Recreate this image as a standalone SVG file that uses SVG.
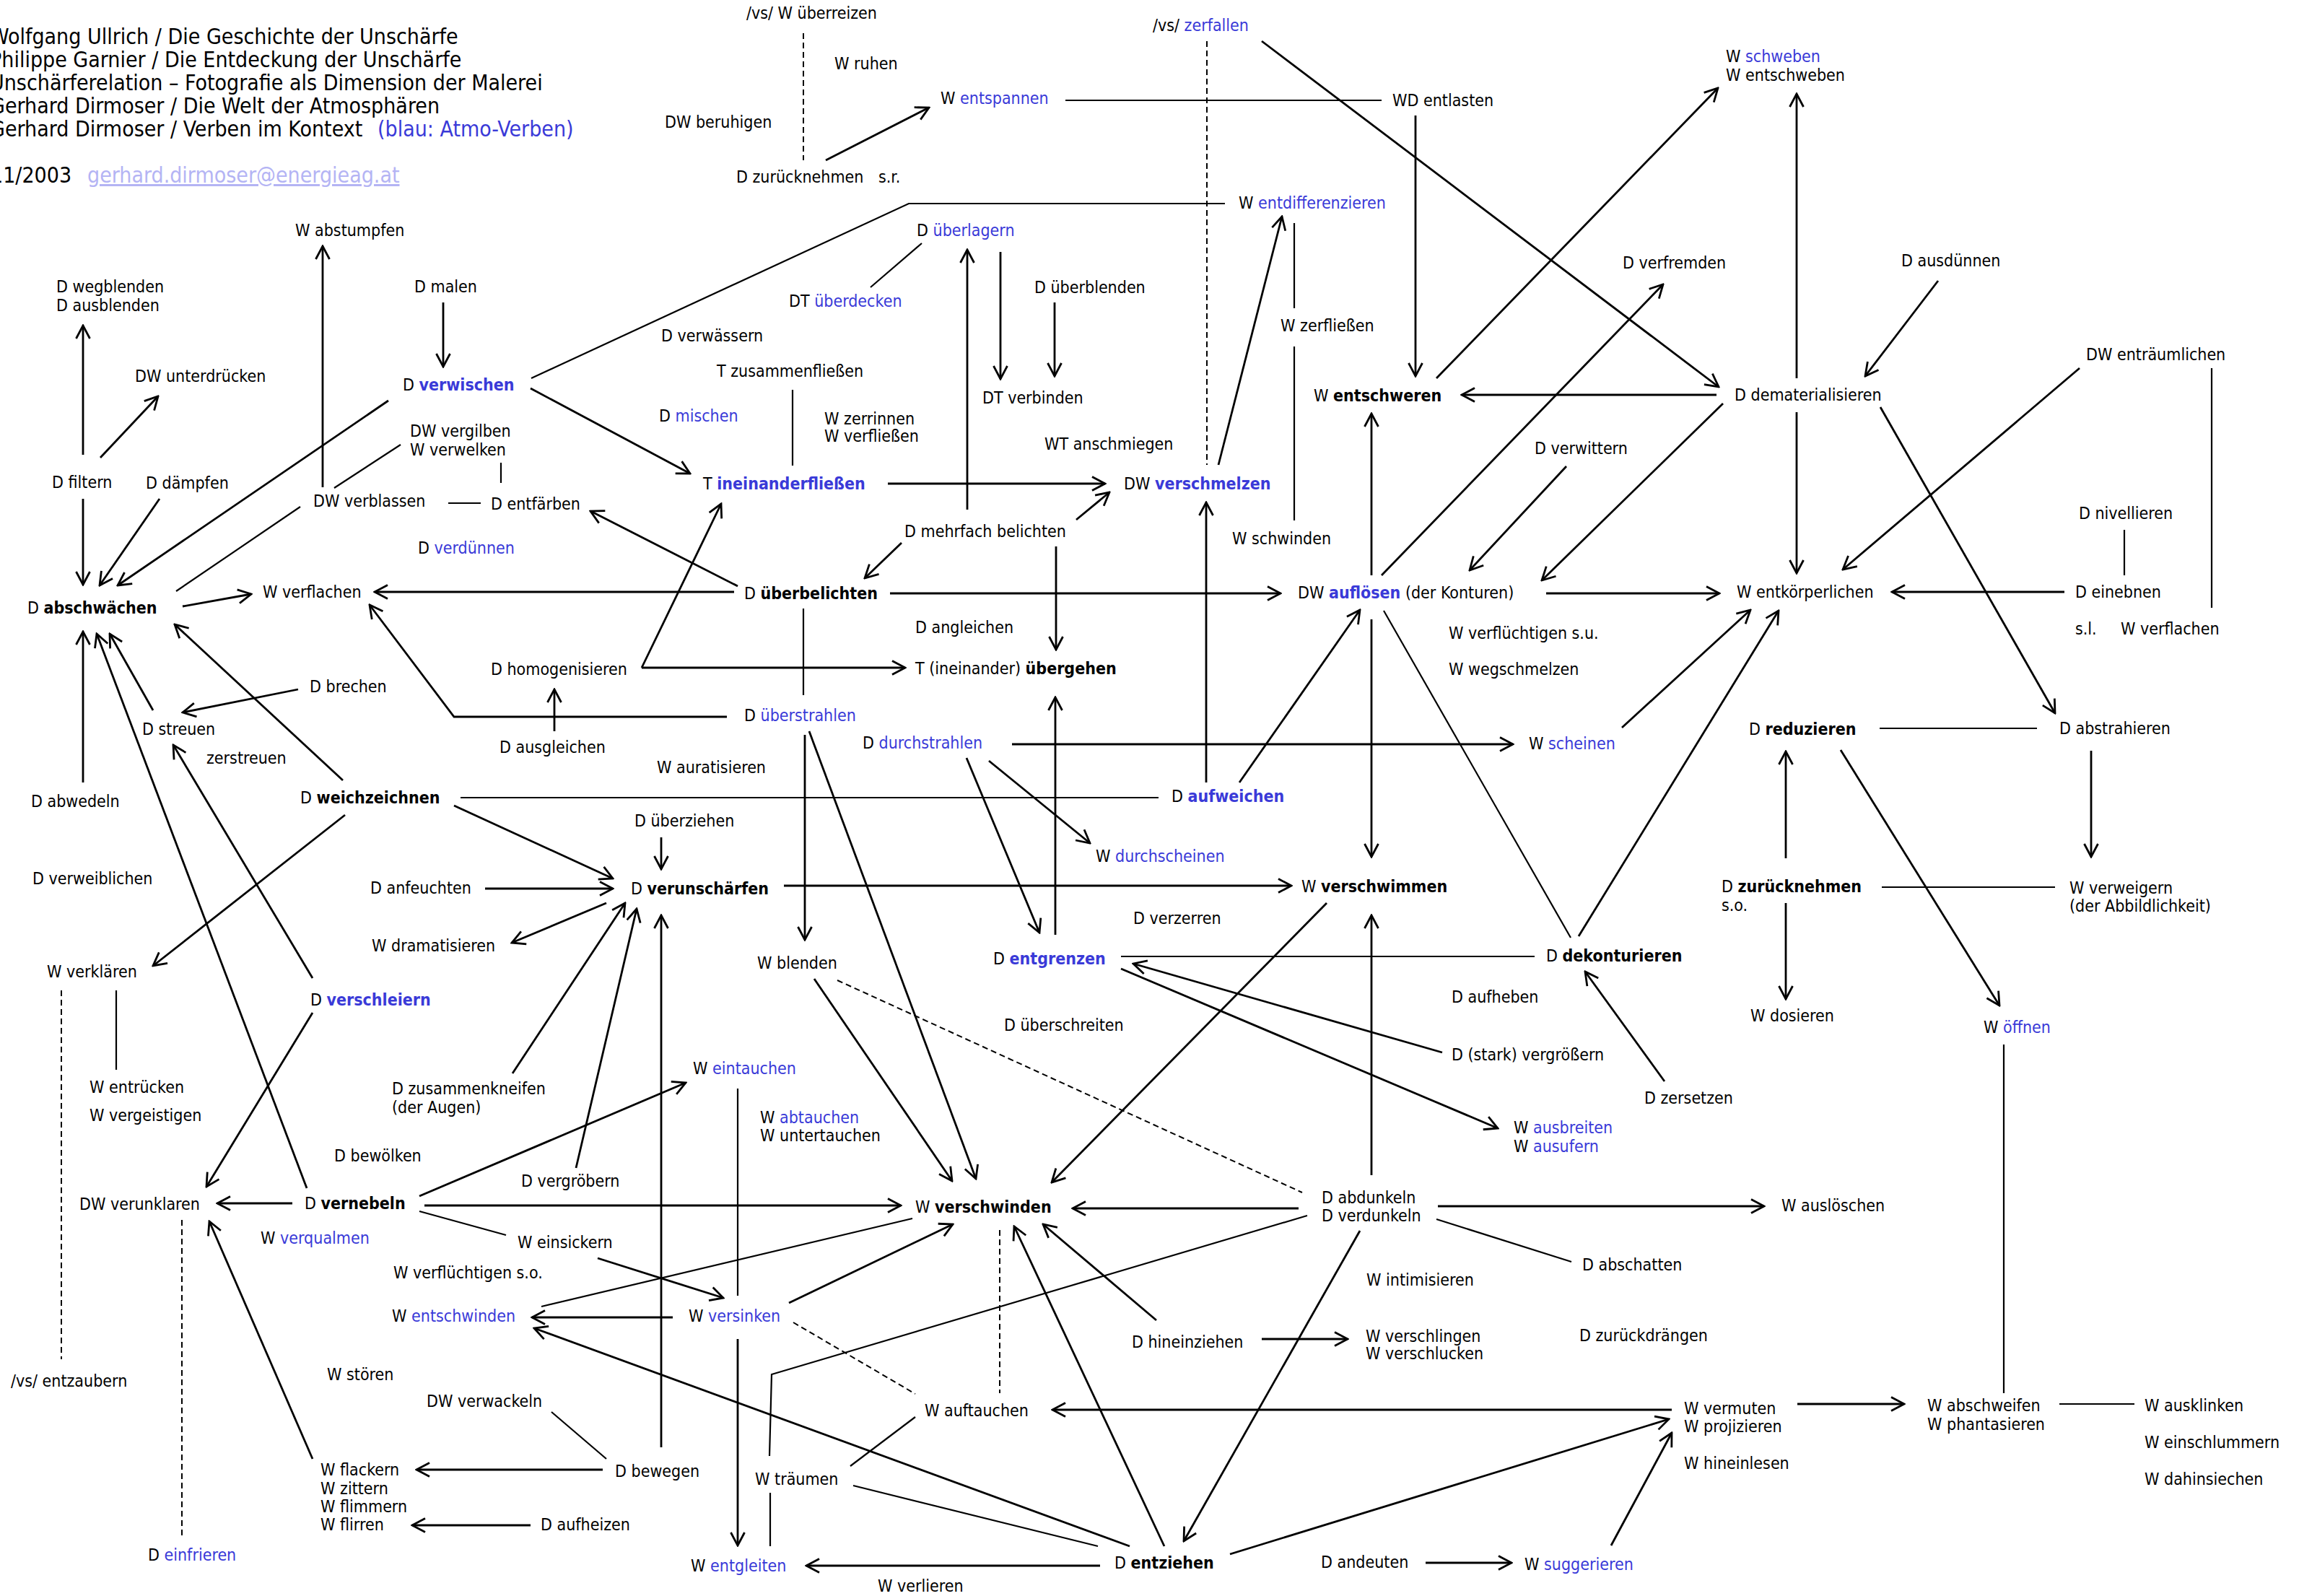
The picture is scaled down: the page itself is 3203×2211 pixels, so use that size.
<svg xmlns="http://www.w3.org/2000/svg" width="3203" height="2211" viewBox="0 0 3203 2211">
<style>
text{font-family:"DejaVu Sans Condensed","DejaVu Sans",sans-serif;font-stretch:condensed;font-size:23px;fill:#000}
.h{font-size:30px}
.b{font-weight:bold}
.c{fill:#3a3ad8}
.m{fill:#b4b4f4;text-decoration:underline}
.a{stroke:#000;stroke-width:2.8;fill:none;marker-end:url(#ah)}
.l{stroke:#000;stroke-width:2.2;fill:none}
.d{stroke:#000;stroke-width:2;fill:none;stroke-dasharray:8 5}
</style>
<defs>
<marker id="ah" viewBox="-22 -12 24 24" refX="0" refY="0" markerWidth="24" markerHeight="24" orient="auto" markerUnits="userSpaceOnUse">
<path d="M-18,-9.5 L0,0 L-18,9.5" fill="none" stroke="#000" stroke-width="2.8"/>
</marker>
</defs>
<rect width="3203" height="2211" fill="#fff"/>
<g id="header">
<text class="h" x="-14" y="61">Wolfgang Ullrich / Die Geschichte der Unschärfe</text>
<text class="h" x="-14" y="93">Philippe Garnier / Die Entdeckung der Unschärfe</text>
<text class="h" x="-14" y="125">Unschärferelation – Fotografie als Dimension der Malerei</text>
<text class="h" x="-14" y="157">Gerhard Dirmoser / Die Welt der Atmosphären</text>
<text class="h" x="-14" y="189">Gerhard Dirmoser / Verben im Kontext <tspan class="c" x="523">(blau: Atmo-Verben)</tspan></text>
<text class="h" x="-13" y="253">11/2003</text>
<text class="h m" x="121" y="253">gerhard.dirmoser@energieag.at</text>
</g>
<g id="connectors">
<line class="a" x1="115" y1="630" x2="115" y2="451"/>
<line class="a" x1="139" y1="634" x2="219" y2="549"/>
<line class="a" x1="614" y1="419" x2="614" y2="508"/>
<polyline class="l" points="736,524 1259,282 1697,282"/>
<line class="a" x1="735" y1="538" x2="956" y2="656"/>
<line class="a" x1="538" y1="555" x2="163" y2="811"/>
<line class="l" x1="463" y1="676" x2="555" y2="616"/>
<line class="l" x1="694" y1="641" x2="694" y2="669"/>
<line class="l" x1="621" y1="697" x2="666" y2="697"/>
<line class="a" x1="447" y1="675" x2="447" y2="341"/>
<line class="a" x1="115" y1="691" x2="115" y2="810"/>
<line class="a" x1="221" y1="691" x2="138" y2="811"/>
<line class="l" x1="416" y1="702" x2="244" y2="819"/>
<line class="d" x1="1113" y1="46" x2="1113" y2="222"/>
<line class="l" x1="1476" y1="139" x2="1914" y2="139"/>
<line class="a" x1="1144" y1="222" x2="1287" y2="149"/>
<line class="l" x1="1277" y1="337" x2="1206" y2="398"/>
<line class="a" x1="1340" y1="706" x2="1340" y2="346"/>
<line class="a" x1="1386" y1="349" x2="1386" y2="525"/>
<line class="a" x1="1461" y1="419" x2="1461" y2="521"/>
<line class="l" x1="1098" y1="540" x2="1098" y2="645"/>
<line class="a" x1="1230" y1="670" x2="1531" y2="670"/>
<line class="a" x1="1491" y1="720" x2="1537" y2="682"/>
<line class="a" x1="889" y1="925" x2="999" y2="698"/>
<line class="a" x1="889" y1="925" x2="1254" y2="925"/>
<line class="a" x1="1022" y1="812" x2="818" y2="708"/>
<line class="d" x1="1672" y1="57" x2="1672" y2="644"/>
<line class="a" x1="1748" y1="57" x2="2381" y2="536"/>
<line class="a" x1="1961" y1="160" x2="1961" y2="521"/>
<line class="a" x1="1688" y1="644" x2="1776" y2="300"/>
<line class="l" x1="1793" y1="309" x2="1793" y2="427"/>
<line class="l" x1="1793" y1="480" x2="1793" y2="721"/>
<line class="a" x1="2378" y1="547" x2="2025" y2="547"/>
<line class="a" x1="1990" y1="524" x2="2380" y2="122"/>
<line class="a" x1="1900" y1="797" x2="1900" y2="573"/>
<line class="a" x1="1914" y1="797" x2="2304" y2="394"/>
<line class="a" x1="2170" y1="646" x2="2036" y2="790"/>
<line class="a" x1="2387" y1="559" x2="2136" y2="804"/>
<line class="a" x1="2489" y1="524" x2="2489" y2="130"/>
<line class="a" x1="2685" y1="389" x2="2584" y2="521"/>
<line class="a" x1="2881" y1="510" x2="2553" y2="789"/>
<line class="l" x1="3064" y1="510" x2="3064" y2="842"/>
<line class="a" x1="2605" y1="564" x2="2847" y2="988"/>
<line class="a" x1="2489" y1="571" x2="2489" y2="794"/>
<line class="l" x1="2943" y1="734" x2="2943" y2="797"/>
<line class="a" x1="253" y1="840" x2="348" y2="823"/>
<line class="a" x1="1017" y1="820" x2="519" y2="820"/>
<polyline class="a" points="1007,993 629,993 512,838"/>
<line class="a" x1="768" y1="1013" x2="768" y2="955"/>
<line class="a" x1="413" y1="955" x2="253" y2="987"/>
<line class="a" x1="212" y1="984" x2="152" y2="878"/>
<line class="a" x1="475" y1="1081" x2="242" y2="865"/>
<line class="a" x1="115" y1="1084" x2="115" y2="875"/>
<line class="l" x1="638" y1="1105" x2="1605" y2="1105"/>
<line class="a" x1="629" y1="1116" x2="849" y2="1217"/>
<line class="a" x1="478" y1="1129" x2="212" y2="1338"/>
<line class="a" x1="672" y1="1231" x2="849" y2="1231"/>
<line class="a" x1="840" y1="1251" x2="709" y2="1306"/>
<line class="a" x1="433" y1="1355" x2="240" y2="1032"/>
<line class="a" x1="425" y1="1646" x2="134" y2="878"/>
<line class="a" x1="433" y1="1403" x2="286" y2="1644"/>
<line class="d" x1="85" y1="1372" x2="85" y2="1883"/>
<line class="l" x1="161" y1="1372" x2="161" y2="1482"/>
<line class="a" x1="1249" y1="752" x2="1198" y2="801"/>
<line class="a" x1="1233" y1="822" x2="1774" y2="822"/>
<line class="a" x1="1463" y1="757" x2="1463" y2="900"/>
<line class="l" x1="1113" y1="843" x2="1113" y2="963"/>
<line class="a" x1="1115" y1="1018" x2="1115" y2="1302"/>
<line class="a" x1="1121" y1="1013" x2="1352" y2="1633"/>
<line class="a" x1="1402" y1="1031" x2="2096" y2="1031"/>
<line class="a" x1="1370" y1="1054" x2="1510" y2="1168"/>
<line class="a" x1="1339" y1="1050" x2="1440" y2="1292"/>
<line class="a" x1="1462" y1="1295" x2="1462" y2="966"/>
<line class="a" x1="916" y1="1160" x2="916" y2="1204"/>
<line class="a" x1="1086" y1="1227" x2="1789" y2="1227"/>
<line class="a" x1="710" y1="1487" x2="866" y2="1251"/>
<line class="a" x1="798" y1="1618" x2="882" y2="1259"/>
<line class="a" x1="916" y1="2005" x2="916" y2="1268"/>
<line class="a" x1="1128" y1="1356" x2="1319" y2="1636"/>
<line class="d" x1="1160" y1="1358" x2="1804" y2="1652"/>
<line class="l" x1="1553" y1="1325" x2="2126" y2="1325"/>
<line class="a" x1="1998" y1="1458" x2="1570" y2="1335"/>
<line class="a" x1="1553" y1="1342" x2="2075" y2="1563"/>
<line class="a" x1="2142" y1="822" x2="2382" y2="822"/>
<line class="l" x1="1917" y1="846" x2="2176" y2="1299"/>
<line class="a" x1="1900" y1="858" x2="1900" y2="1187"/>
<line class="a" x1="1717" y1="1084" x2="1884" y2="845"/>
<line class="a" x1="1671" y1="1084" x2="1671" y2="696"/>
<line class="a" x1="2247" y1="1008" x2="2425" y2="845"/>
<line class="a" x1="1838" y1="1251" x2="1457" y2="1638"/>
<line class="a" x1="1900" y1="1628" x2="1900" y2="1268"/>
<line class="a" x1="2187" y1="1297" x2="2464" y2="846"/>
<line class="a" x1="2306" y1="1498" x2="2196" y2="1346"/>
<line class="a" x1="2860" y1="820" x2="2621" y2="820"/>
<line class="l" x1="2604" y1="1009" x2="2822" y2="1009"/>
<line class="a" x1="2897" y1="1040" x2="2897" y2="1187"/>
<line class="a" x1="2474" y1="1189" x2="2474" y2="1041"/>
<line class="a" x1="2550" y1="1039" x2="2770" y2="1393"/>
<line class="l" x1="2607" y1="1229" x2="2847" y2="1229"/>
<line class="a" x1="2474" y1="1251" x2="2474" y2="1384"/>
<line class="l" x1="2776" y1="1447" x2="2776" y2="1930"/>
<line class="a" x1="405" y1="1667" x2="301" y2="1667"/>
<line class="a" x1="581" y1="1657" x2="950" y2="1500"/>
<line class="a" x1="588" y1="1670" x2="1248" y2="1670"/>
<line class="l" x1="581" y1="1678" x2="701" y2="1711"/>
<line class="a" x1="828" y1="1743" x2="1002" y2="1798"/>
<line class="a" x1="932" y1="1825" x2="737" y2="1825"/>
<line class="l" x1="750" y1="1810" x2="1264" y2="1688"/>
<line class="a" x1="1565" y1="2142" x2="740" y2="1840"/>
<line class="l" x1="764" y1="1956" x2="840" y2="2021"/>
<line class="a" x1="835" y1="2036" x2="577" y2="2036"/>
<line class="a" x1="735" y1="2113" x2="571" y2="2113"/>
<line class="a" x1="433" y1="2021" x2="290" y2="1692"/>
<line class="d" x1="252" y1="1690" x2="252" y2="2127"/>
<line class="l" x1="1022" y1="1508" x2="1022" y2="1795"/>
<line class="a" x1="1799" y1="1674" x2="1486" y2="1674"/>
<line class="a" x1="1093" y1="1805" x2="1320" y2="1696"/>
<line class="a" x1="1022" y1="1855" x2="1022" y2="2141"/>
<line class="d" x1="1099" y1="1832" x2="1268" y2="1931"/>
<line class="d" x1="1385" y1="1704" x2="1385" y2="1930"/>
<polyline class="l" points="1066,2017 1069,1904 1811,1684"/>
<line class="a" x1="2316" y1="1953" x2="1458" y2="1953"/>
<line class="l" x1="1268" y1="1963" x2="1178" y2="2031"/>
<line class="l" x1="1067" y1="2068" x2="1067" y2="2142"/>
<line class="l" x1="1182" y1="2058" x2="1521" y2="2142"/>
<line class="a" x1="1613" y1="2142" x2="1405" y2="1699"/>
<line class="a" x1="1602" y1="1829" x2="1445" y2="1696"/>
<line class="a" x1="1524" y1="2169" x2="1117" y2="2169"/>
<line class="a" x1="1992" y1="1671" x2="2444" y2="1671"/>
<line class="l" x1="1990" y1="1689" x2="2177" y2="1748"/>
<line class="a" x1="1884" y1="1705" x2="1640" y2="2135"/>
<line class="a" x1="1748" y1="1855" x2="1867" y2="1855"/>
<line class="a" x1="1704" y1="2153" x2="2312" y2="1966"/>
<line class="a" x1="2232" y1="2141" x2="2316" y2="1985"/>
<line class="a" x1="1975" y1="2165" x2="2094" y2="2165"/>
<line class="a" x1="2490" y1="1945" x2="2638" y2="1945"/>
<line class="l" x1="2853" y1="1945" x2="2957" y2="1945"/>
</g>
<g id="n-ueberreizen"><text x="1034" y="26">/vs/ W überreizen</text></g>
<g id="n-ruhen"><text x="1156" y="96">W ruhen</text></g>
<g id="n-entspannen"><text x="1303" y="144">W <tspan class="c">entspannen</tspan></text></g>
<g id="n-beruhigen"><text x="921" y="177">DW beruhigen</text></g>
<g id="n-zuruecknehmen-sr"><text x="1020" y="253">D zurücknehmen<tspan x="1217">s.r.</tspan></text></g>
<g id="n-zerfallen"><text x="1597" y="43">/vs/ <tspan class="c">zerfallen</tspan></text></g>
<g id="n-entlasten"><text x="1929" y="147">WD entlasten</text></g>
<g id="n-schweben"><text x="2391" y="86">W <tspan class="c">schweben</tspan></text><text x="2391" y="112">W entschweben</text></g>
<g id="n-entdifferenzieren"><text x="1716" y="289">W <tspan class="c">entdifferenzieren</tspan></text></g>
<g id="n-ueberlagern"><text x="1270" y="327">D <tspan class="c">überlagern</tspan></text></g>
<g id="n-abstumpfen"><text x="409" y="327">W abstumpfen</text></g>
<g id="n-verfremden"><text x="2248" y="372">D verfremden</text></g>
<g id="n-ausduennen"><text x="2634" y="369">D ausdünnen</text></g>
<g id="n-wegblenden"><text x="78" y="405">D wegblenden</text><text x="78" y="431">D ausblenden</text></g>
<g id="n-malen"><text x="574" y="405">D malen</text></g>
<g id="n-ueberblenden"><text x="1433" y="406">D überblenden</text></g>
<g id="n-ueberdecken"><text x="1093" y="425">DT <tspan class="c">überdecken</tspan></text></g>
<g id="n-zerfliessen"><text x="1774" y="459">W zerfließen</text></g>
<g id="n-verwaessern"><text x="916" y="473">D verwässern</text></g>
<g id="n-entraeumlichen"><text x="2890" y="499">DW enträumlichen</text></g>
<g id="n-zusammenfliessen"><text x="993" y="522">T zusammenfließen</text></g>
<g id="n-unterdruecken"><text x="187" y="529">DW unterdrücken</text></g>
<g id="n-verwischen"><text x="558" y="541">D <tspan class="b c">verwischen</tspan></text></g>
<g id="n-entschweren"><text x="1820" y="556">W <tspan class="b">entschweren</tspan></text></g>
<g id="n-dematerialisieren"><text x="2403" y="555">D dematerialisieren</text></g>
<g id="n-verbinden"><text x="1361" y="559">DT verbinden</text></g>
<g id="n-mischen"><text x="913" y="584">D <tspan class="c">mischen</tspan></text></g>
<g id="n-zerrinnen"><text x="1142" y="588">W zerrinnen</text><text x="1142" y="612">W verfließen</text></g>
<g id="n-vergilben"><text x="568" y="605">DW vergilben</text><text x="568" y="631">W verwelken</text></g>
<g id="n-anschmiegen"><text x="1447" y="623">WT anschmiegen</text></g>
<g id="n-verwittern"><text x="2126" y="629">D verwittern</text></g>
<g id="n-filtern"><text x="72" y="676">D filtern</text></g>
<g id="n-daempfen"><text x="202" y="677">D dämpfen</text></g>
<g id="n-ineinanderfliessen"><text x="974" y="678">T <tspan class="b c">ineinanderfließen</tspan></text></g>
<g id="n-verschmelzen"><text x="1557" y="678">DW <tspan class="b c">verschmelzen</tspan></text></g>
<g id="n-verblassen"><text x="434" y="702">DW verblassen</text></g>
<g id="n-entfaerben"><text x="680" y="706">D entfärben</text></g>
<g id="n-nivellieren"><text x="2880" y="719">D nivellieren</text></g>
<g id="n-mehrfach"><text x="1253" y="744">D mehrfach belichten</text></g>
<g id="n-schwinden"><text x="1707" y="754">W schwinden</text></g>
<g id="n-verduennen"><text x="579" y="767">D <tspan class="c">verdünnen</tspan></text></g>
<g id="n-ueberbelichten"><text x="1031" y="830">D <tspan class="b">überbelichten</tspan></text></g>
<g id="n-verflachen"><text x="364" y="828">W verflachen</text></g>
<g id="n-aufloesen"><text x="1798" y="829">DW <tspan class="b c">auflösen</tspan> (der Konturen)</text></g>
<g id="n-entkoerperlichen"><text x="2406" y="828">W entkörperlichen</text></g>
<g id="n-einebnen"><text x="2875" y="828">D einebnen</text></g>
<g id="n-abschwaechen"><text x="38" y="850">D <tspan class="b">abschwächen</tspan></text></g>
<g id="n-angleichen"><text x="1268" y="877">D angleichen</text></g>
<g id="n-verfluechtigen-su"><text x="2007" y="885">W verflüchtigen s.u.</text></g>
<g id="n-sl"><text x="2875" y="879">s.l.</text><text x="2938" y="879">W verflachen</text></g>
<g id="n-homogenisieren"><text x="680" y="935">D homogenisieren</text></g>
<g id="n-uebergehen"><text x="1268" y="934">T (ineinander) <tspan class="b">übergehen</tspan></text></g>
<g id="n-wegschmelzen"><text x="2007" y="935">W wegschmelzen</text></g>
<g id="n-brechen"><text x="429" y="959">D brechen</text></g>
<g id="n-ueberstrahlen"><text x="1031" y="999">D <tspan class="c">überstrahlen</tspan></text></g>
<g id="n-streuen"><text x="197" y="1018">D streuen</text></g>
<g id="n-reduzieren"><text x="2423" y="1018">D <tspan class="b">reduzieren</tspan></text></g>
<g id="n-abstrahieren"><text x="2853" y="1017">D abstrahieren</text></g>
<g id="n-durchstrahlen"><text x="1195" y="1037">D <tspan class="c">durchstrahlen</tspan></text></g>
<g id="n-scheinen"><text x="2118" y="1038">W <tspan class="c">scheinen</tspan></text></g>
<g id="n-ausgleichen"><text x="692" y="1043">D ausgleichen</text></g>
<g id="n-zerstreuen"><text x="286" y="1058">zerstreuen</text></g>
<g id="n-auratisieren"><text x="910" y="1071">W auratisieren</text></g>
<g id="n-aufweichen"><text x="1623" y="1111">D <tspan class="b c">aufweichen</tspan></text></g>
<g id="n-weichzeichnen"><text x="416" y="1113">D <tspan class="b">weichzeichnen</tspan></text></g>
<g id="n-abwedeln"><text x="43" y="1118">D abwedeln</text></g>
<g id="n-ueberziehen"><text x="879" y="1145">D überziehen</text></g>
<g id="n-durchscheinen"><text x="1518" y="1194">W <tspan class="c">durchscheinen</tspan></text></g>
<g id="n-verweiblichen"><text x="45" y="1225">D verweiblichen</text></g>
<g id="n-verunschaerfen"><text x="874" y="1239">D <tspan class="b">verunschärfen</tspan></text></g>
<g id="n-anfeuchten"><text x="513" y="1238">D anfeuchten</text></g>
<g id="n-verschwimmen"><text x="1803" y="1236">W <tspan class="b">verschwimmen</tspan></text></g>
<g id="n-zuruecknehmen"><text x="2385" y="1236">D <tspan class="b">zurücknehmen</tspan></text><text x="2385" y="1262">s.o.</text></g>
<g id="n-verweigern"><text x="2867" y="1238">W verweigern</text><text x="2867" y="1263">(der Abbildlichkeit)</text></g>
<g id="n-verzerren"><text x="1570" y="1280">D verzerren</text></g>
<g id="n-dramatisieren"><text x="515" y="1318">W dramatisieren</text></g>
<g id="n-entgrenzen"><text x="1376" y="1336">D <tspan class="b c">entgrenzen</tspan></text></g>
<g id="n-dekonturieren"><text x="2142" y="1332">D <tspan class="b">dekonturieren</tspan></text></g>
<g id="n-blenden"><text x="1049" y="1342">W blenden</text></g>
<g id="n-verklaeren"><text x="65" y="1354">W verklären</text></g>
<g id="n-aufheben"><text x="2011" y="1389">D aufheben</text></g>
<g id="n-verschleiern"><text x="430" y="1393">D <tspan class="b c">verschleiern</tspan></text></g>
<g id="n-dosieren"><text x="2425" y="1415">W dosieren</text></g>
<g id="n-ueberschreiten"><text x="1391" y="1428">D überschreiten</text></g>
<g id="n-oeffnen"><text x="2748" y="1431">W <tspan class="c">öffnen</tspan></text></g>
<g id="n-vergroessern"><text x="2011" y="1469">D (stark) vergrößern</text></g>
<g id="n-eintauchen"><text x="960" y="1488">W <tspan class="c">eintauchen</tspan></text></g>
<g id="n-zersetzen"><text x="2278" y="1529">D zersetzen</text></g>
<g id="n-entruecken"><text x="124" y="1514">W entrücken</text></g>
<g id="n-zusammenkneifen"><text x="543" y="1516">D zusammenkneifen</text><text x="543" y="1542">(der Augen)</text></g>
<g id="n-vergeistigen"><text x="124" y="1553">W vergeistigen</text></g>
<g id="n-abtauchen"><text x="1053" y="1556">W <tspan class="c">abtauchen</tspan></text><text x="1053" y="1581">W untertauchen</text></g>
<g id="n-ausbreiten"><text x="2097" y="1570">W <tspan class="c">ausbreiten</tspan></text><text x="2097" y="1596">W <tspan class="c">ausufern</tspan></text></g>
<g id="n-bewoelken"><text x="463" y="1609">D bewölken</text></g>
<g id="n-vergroebern"><text x="722" y="1644">D vergröbern</text></g>
<g id="n-abdunkeln"><text x="1831" y="1667">D abdunkeln</text><text x="1831" y="1692">D verdunkeln</text></g>
<g id="n-vernebeln"><text x="422" y="1675">D <tspan class="b">vernebeln</tspan></text></g>
<g id="n-verunklaren"><text x="110" y="1676">DW verunklaren</text></g>
<g id="n-verschwinden"><text x="1268" y="1680">W <tspan class="b">verschwinden</tspan></text></g>
<g id="n-ausloeschen"><text x="2468" y="1678">W auslöschen</text></g>
<g id="n-verqualmen"><text x="361" y="1723">W <tspan class="c">verqualmen</tspan></text></g>
<g id="n-einsickern"><text x="717" y="1729">W einsickern</text></g>
<g id="n-abschatten"><text x="2192" y="1760">D abschatten</text></g>
<g id="n-verfluechtigen-so"><text x="545" y="1771">W verflüchtigen s.o.</text></g>
<g id="n-intimisieren"><text x="1893" y="1781">W intimisieren</text></g>
<g id="n-entschwinden"><text x="543" y="1831">W <tspan class="c">entschwinden</tspan></text></g>
<g id="n-versinken"><text x="954" y="1831">W <tspan class="c">versinken</tspan></text></g>
<g id="n-zurueckdraengen"><text x="2188" y="1858">D zurückdrängen</text></g>
<g id="n-hineinziehen"><text x="1568" y="1867">D hineinziehen</text></g>
<g id="n-verschlingen"><text x="1892" y="1859">W verschlingen</text><text x="1892" y="1883">W verschlucken</text></g>
<g id="n-stoeren"><text x="453" y="1912">W stören</text></g>
<g id="n-entzaubern"><text x="15" y="1921">/vs/ entzaubern</text></g>
<g id="n-verwackeln"><text x="591" y="1949">DW verwackeln</text></g>
<g id="n-auftauchen"><text x="1281" y="1962">W auftauchen</text></g>
<g id="n-vermuten"><text x="2333" y="1959">W vermuten</text><text x="2333" y="1984">W projizieren</text><text x="2333" y="2035">W hineinlesen</text></g>
<g id="n-abschweifen"><text x="2670" y="1955">W abschweifen</text><text x="2670" y="1981">W phantasieren</text></g>
<g id="n-ausklinken"><text x="2971" y="1955">W ausklinken</text></g>
<g id="n-einschlummern"><text x="2971" y="2006">W einschlummern</text></g>
<g id="n-dahinsiechen"><text x="2971" y="2057">W dahinsiechen</text></g>
<g id="n-flackern"><text x="444" y="2044">W flackern</text><text x="444" y="2070">W zittern</text><text x="444" y="2095">W flimmern</text><text x="444" y="2120">W flirren</text></g>
<g id="n-bewegen"><text x="852" y="2046">D bewegen</text></g>
<g id="n-traeumen"><text x="1046" y="2057">W träumen</text></g>
<g id="n-aufheizen"><text x="749" y="2120">D aufheizen</text></g>
<g id="n-einfrieren"><text x="205" y="2162">D <tspan class="c">einfrieren</tspan></text></g>
<g id="n-andeuten"><text x="1830" y="2172">D andeuten</text></g>
<g id="n-entziehen"><text x="1544" y="2173">D <tspan class="b">entziehen</tspan></text></g>
<g id="n-suggerieren"><text x="2112" y="2175">W <tspan class="c">suggerieren</tspan></text></g>
<g id="n-entgleiten"><text x="957" y="2177">W <tspan class="c">entgleiten</tspan></text></g>
<g id="n-verlieren"><text x="1216" y="2205">W verlieren</text></g>
</svg>
